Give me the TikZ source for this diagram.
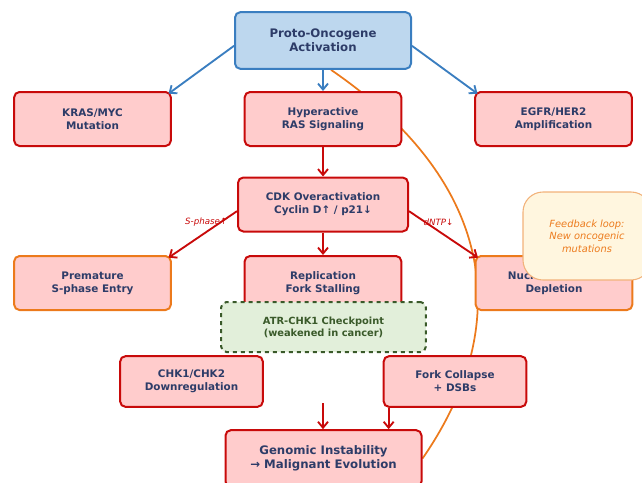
\documentclass[tikz,border=0pt]{standalone}
\usepackage{fontspec}
\setmainfont{DejaVu Sans}
\usepackage{xcolor}
\usetikzlibrary{arrows.meta, positioning}
\pgfdeclarelayer{background}
\pgfsetlayers{background,main}

\definecolor{redfill}{HTML}{FFCCCC}
\definecolor{redline}{HTML}{C80A0A}
\definecolor{bluefill}{HTML}{BDD7EE}
\definecolor{blueline}{HTML}{3A7EC0}
\definecolor{orangeline}{HTML}{EC7A1C}
\definecolor{greenfill}{HTML}{E2EFDA}
\definecolor{greenline}{HTML}{3A5A2A}
\definecolor{creamfill}{HTML}{FFF6DF}
\definecolor{creamline}{HTML}{F2B27A}
\definecolor{navytext}{HTML}{2D3C68}

\tikzset{
    box/.style={draw=redline, fill=redfill, rounded corners=4pt, line width=1.5pt,
        align=center, text=navytext, minimum width=117.5pt, minimum height=40.5pt,
        font=\bfseries\fontsize{7.8}{9.8}\selectfont},
    bigbox/.style={box, minimum width=132pt, minimum height=42.5pt,
        font=\bfseries\fontsize{8.8}{10.5}\selectfont},
    sidebox/.style={box, minimum width=107pt, minimum height=38pt},
    warnbox/.style={box, draw=orangeline},
    redarrow/.style={->, draw=redline, line width=1.4pt},
    bluearrow/.style={->, draw=blueline, line width=1.4pt},
    edgelabel/.style={text=redline, font=\itshape\fontsize{6.5}{8}\selectfont}
}

\begin{document}
\begin{tikzpicture}[x=0.75pt, y=-0.75pt, >={Straight Barb[length=4.5pt, width=7.5pt]}]
    \useasboundingbox (0,0) rectangle (642,482);

    % 1. Các hộp chính
    \node[bigbox, draw=blueline, fill=bluefill] (proto) at (323,40.5) {Proto-Oncogene\\Activation};
    \node[box] (kras)  at (92.5,119)  {KRAS/MYC\\Mutation};
    \node[box] (hyper) at (323,119) {Hyperactive\\RAS Signaling};
    \node[box] (egfr)  at (553.5,119) {EGFR/HER2\\Amplification};
    \node[box, minimum width=127.5pt] (cdk) at (323,204.5) {CDK Overactivation\\Cyclin D↑ / p21↓};
    \node[warnbox] (premature)   at (92.5,283)  {Premature\\S-phase Entry};
    \node[box]     (replication) at (323,283) {Replication\\Fork Stalling};
    \node[warnbox] (nucleotide)  at (554,283)   {Nucleotide Pool\\Depletion};

    % 2. Checkpoint (nét đứt)
    \node[box, draw=greenline, fill=greenfill, dashed, text=greenline,
        minimum width=153.5pt, minimum height=37.5pt,
        font=\bfseries\fontsize{7.4}{9}\selectfont] (atr) at (323.5,327)
        {ATR-CHK1 Checkpoint\\(weakened in cancer)};
    \node[sidebox] (chk)      at (191.5,381.5) {CHK1/CHK2\\Downregulation};
    \node[sidebox] (collapse) at (455,381.5)   {Fork Collapse\\+ DSBs};
    \node[bigbox, minimum width=147pt] (genomic) at (323.5,458.5)
        {Genomic Instability\\→ Malignant Evolution};

    % 3. Ghi chú vòng phản hồi
    \node[draw=creamline, fill=creamfill, rounded corners=15pt, line width=0.8pt,
        minimum width=96pt, minimum height=66pt, align=center, text=orangeline,
        font=\itshape\fontsize{7.4}{9.4}\selectfont] (feedback) at (587,236)
        {Feedback loop:\\New oncogenic\\mutations};

    % 4. Các mũi tên
    \draw[bluearrow] ([yshift=-4pt]proto.west) -- ([xshift=-2.5pt,yshift=-2pt]kras.north east);
    \draw[bluearrow] (proto.south) -- (hyper.north);
    \draw[bluearrow] ([yshift=-4pt]proto.east) -- ([xshift=2.5pt,yshift=-2pt]egfr.north west);
    \draw[redarrow] (hyper.south) -- (cdk.north);
    \draw[redarrow] ([yshift=-5pt]cdk.west) -- ([xshift=-2.5pt,yshift=-2pt]premature.north east)
        node[edgelabel, pos=0.2, anchor=east, xshift=7pt, yshift=-1pt] {S-phase↑};
    \draw[redarrow] (cdk.south) -- (replication.north);
    \draw[redarrow] ([yshift=-5pt]cdk.east) -- ([xshift=2.5pt,yshift=-2pt]nucleotide.north west)
        node[edgelabel, pos=0.2, anchor=west, xshift=-3.5pt, yshift=-1pt] {dNTP↓};
    \coordinate (gap) at (323,403);
    \draw[redarrow] (gap) -- (gap |- genomic.north);
    \draw[redarrow] ([xshift=4.5pt]collapse.south west)
        -- ([xshift=4.5pt]collapse.south west |- genomic.north);

    % 5. Đường cong phản hồi (nằm dưới các hộp)
    \begin{pgfonlayer}{background}
        \draw[orangeline, line width=1.3pt] (genomic.east)
            .. controls +(90,-130) and +(169,116) .. ([xshift=6pt]proto.south);
    \end{pgfonlayer}
\end{tikzpicture}
\end{document}
